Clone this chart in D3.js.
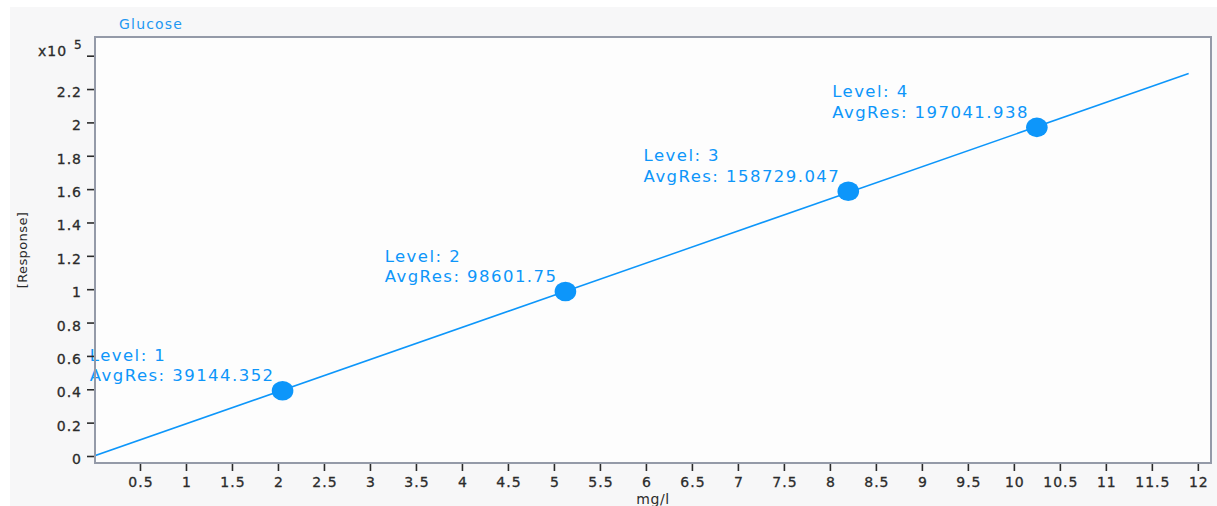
<!DOCTYPE html>
<html>
<head>
<meta charset="utf-8">
<script src="https://cdn.jsdelivr.net/npm/d3@7"></script>
<style>
  html, body { margin: 0; padding: 0; background: #ffffff; }
  svg { display: block; }
  text { font-family: "DejaVu Sans", sans-serif; }
</style>
</head>
<body>
<svg id="chart" width="1217" height="506"></svg>
<script>
// Calibration levels for glucose (concentration in mg/l, mean response)
const levels = [1, 2, 3, 4];
const concentrations = [2.05, 5.125, 8.2, 10.25];
const avgResponses = [39144.352, 98601.75, 158729.047, 197041.938];

// Axis ticks
const xTicks = [0.5, 1, 1.5, 2, 2.5, 3, 3.5, 4, 4.5, 5, 5.5, 6, 6.5, 7, 7.5, 8, 8.5, 9, 9.5, 10, 10.5, 11, 11.5, 12];
const yTicks = [0, 20000, 40000, 60000, 80000, 100000, 120000, 140000, 160000, 180000, 200000, 220000];
const yExpTick = 240000;

// Extent of the calibration line (mg/l)
const fitRange = [0, 11.9];

const title = "Glucose";
const xTitle = "mg/l";
const yTitle = "[Response]";

const blue = "#0d96fa";
const axisGrey = "#949aa8";
const tickInk = "#2b2b2b";

const svg = d3.select("#chart");
const plot = { left: 95, top: 37, right: 1211, bottom: 463 };

const x = d3.scaleLinear().domain([0.011, 12.143]).range([plot.left, plot.right]);
const y = d3.scaleLinear().domain([-4200, 251200]).range([plot.bottom, plot.top]);

// panel background
svg.append("rect").attr("x", 10).attr("y", 7).attr("width", 1207).attr("height", 499).attr("fill", "#f7f7f8");
svg.append("rect")
  .attr("x", plot.left).attr("y", plot.top)
  .attr("width", plot.right - plot.left).attr("height", plot.bottom - plot.top)
  .attr("fill", "#fdfdfd");

svg.append("defs").append("clipPath").attr("id", "plotClip")
  .append("rect")
  .attr("x", plot.left).attr("y", plot.top)
  .attr("width", plot.right - plot.left).attr("height", plot.bottom - plot.top);

// title
svg.append("text")
  .attr("x", 119).attr("y", 29)
  .attr("font-size", 14).attr("letter-spacing", 1.2)
  .attr("fill", "#1e98f2")
  .text(title);

// least-squares calibration line through the origin
const sxy = d3.sum(concentrations, (c, i) => c * avgResponses[i]);
const sxx = d3.sum(concentrations, c => c * c);
const slope = sxy / sxx;
const line = d3.line().x(d => x(d)).y(d => y(slope * d));

const g = svg.append("g").attr("clip-path", "url(#plotClip)");
g.append("path")
  .datum(fitRange)
  .attr("d", line)
  .attr("fill", "none")
  .attr("stroke", blue)
  .attr("stroke-width", 1.5);

// point labels
const labels = svg.append("g").attr("fill", blue).attr("font-size", 16.5).attr("letter-spacing", 1.45);
levels.forEach((lv, i) => {
  const px = x(concentrations[i]);
  const py = y(avgResponses[i]);
  const grp = labels.append("g");
  const l2 = grp.append("text").attr("y", py - 9.5).text("AvgRes: " + avgResponses[i]);
  const w = l2.node().getComputedTextLength();
  const left = px - 8 - w;
  l2.attr("x", left);
  grp.append("text").attr("x", left).attr("y", py - 30).text("Level: " + lv);
});

// markers
svg.append("g").selectAll("ellipse")
  .data(concentrations)
  .join("ellipse")
  .attr("cx", d => x(d))
  .attr("cy", (d, i) => y(avgResponses[i]))
  .attr("rx", 10.8)
  .attr("ry", 9.8)
  .attr("fill", blue);

// axes
const xAxis = svg.append("g")
  .attr("transform", `translate(0,${plot.bottom})`)
  .call(d3.axisBottom(x).tickValues(xTicks).tickSize(8).tickFormat(d3.format("~g")));
xAxis.select(".domain").remove();
xAxis.selectAll(".tick line").attr("stroke", tickInk).attr("stroke-width", 1.6);
xAxis.selectAll(".tick text")
  .attr("y", 24).attr("dy", 0).attr("dx", 0.5)
  .attr("font-size", 14).attr("letter-spacing", 1)
  .attr("font-family", "DejaVu Sans, sans-serif")
  .attr("fill", tickInk).attr("stroke", tickInk).attr("stroke-width", 0.3);

const yAxis = svg.append("g")
  .attr("transform", `translate(${plot.left},0)`)
  .call(d3.axisLeft(y).tickValues(yTicks.concat([yExpTick])).tickSize(8)
    .tickFormat(d => d === yExpTick ? "" : d3.format("~g")(d / 1e5)));
yAxis.select(".domain").remove();
yAxis.selectAll(".tick line").attr("stroke", tickInk).attr("stroke-width", 1.6);
yAxis.selectAll(".tick text")
  .attr("x", -13).attr("dy", 7.5)
  .attr("font-size", 14).attr("letter-spacing", 1)
  .attr("font-family", "DejaVu Sans, sans-serif")
  .attr("fill", tickInk).attr("stroke", tickInk).attr("stroke-width", 0.3);

// exponent label on top tick
const expY = y(yExpTick);
svg.append("text")
  .attr("x", 38).attr("y", expY + 0.5)
  .attr("font-size", 14).attr("letter-spacing", 1)
  .attr("fill", tickInk).attr("stroke", tickInk).attr("stroke-width", 0.3)
  .text("x10");
svg.append("text")
  .attr("x", 74).attr("y", expY - 6.5)
  .attr("font-size", 12)
  .attr("fill", tickInk).attr("stroke", tickInk).attr("stroke-width", 0.3)
  .text("5");

// frame
svg.append("rect")
  .attr("x", plot.left).attr("y", plot.top)
  .attr("width", plot.right - plot.left).attr("height", plot.bottom - plot.top)
  .attr("fill", "none")
  .attr("stroke", axisGrey)
  .attr("stroke-width", 2);

// axis titles
svg.append("text")
  .attr("x", (plot.left + plot.right) / 2).attr("y", 503.5)
  .attr("text-anchor", "middle")
  .attr("font-size", 14).attr("letter-spacing", 0.6)
  .attr("fill", tickInk)
  .text(xTitle);

svg.append("text")
  .attr("transform", `translate(27,${(plot.top + plot.bottom) / 2}) rotate(-90)`)
  .attr("text-anchor", "middle")
  .attr("font-size", 13).attr("letter-spacing", 0.4)
  .attr("fill", tickInk)
  .text(yTitle);
</script>
</body>
</html>
